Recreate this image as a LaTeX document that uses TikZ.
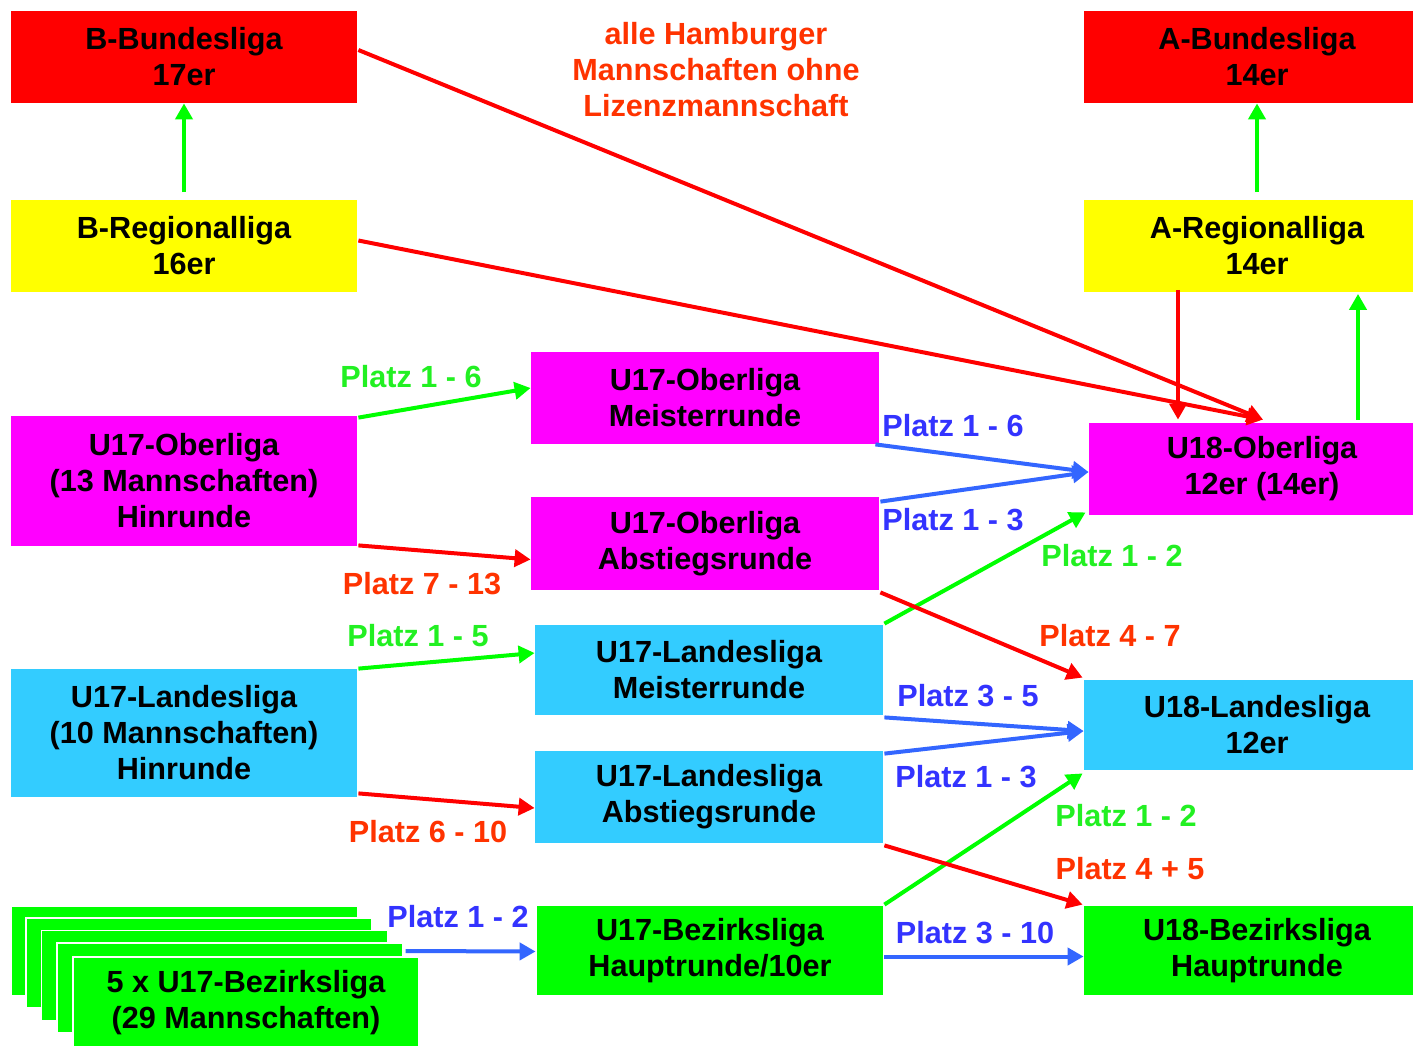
\documentclass[tikz,border=0pt]{standalone}
\usepackage{fontspec}
\setmainfont{Liberation Sans}
\usetikzlibrary{arrows.meta,calc}
\definecolor{cred}{HTML}{FF0000}
\definecolor{cyel}{HTML}{FFFF00}
\definecolor{cmag}{HTML}{FF00FF}
\definecolor{ccyan}{HTML}{33CCFF}
\definecolor{cgreen}{HTML}{00FF00}
\definecolor{arrblue}{HTML}{3366FF}
\definecolor{lblblue}{HTML}{3333FF}
\definecolor{lblgreen}{HTML}{22F022}
\definecolor{lblorange}{HTML}{FF3300}
\begin{document}
\begin{tikzpicture}[x=0.5pt,y=-0.5pt,
  lbl/.style={inner sep=0pt, align=center, font=\fontsize{15.3}{18}\selectfont\bfseries},
  box/.style={lbl, minimum width=173pt, minimum height=46pt},
  arr/.style={line width=2pt, -{Triangle[length=8pt,width=8.5pt]}},
  garr/.style={arr, draw=cgreen},
  rarr/.style={arr, draw=cred},
  barr/.style={arr, draw=arrblue},
  stackbox/.style={box, fill=cgreen, draw=white, line width=0.6pt, minimum height=45pt}
]
\useasboundingbox (0,0) rectangle (1413,1045);
\fill[white] (0,0) rectangle (1413,1045);

% boxes
\node[box, fill=cred] (bbl) at (184,57) {B-Bundesliga\\17er};
\node[box, fill=cyel] (brl) at (184,245.5) {B-Regionalliga\\16er};
\node[box, fill=cred] (abl) at (1257,57) {A-Bundesliga\\14er};
\node[box, fill=cyel] (arl) at (1257,245.5) {A-Regionalliga\\14er};
\node[box, fill=cmag] (u18ol) at (1262,469) {U18-Oberliga\\12er (14er)};
\node[box, fill=cmag, minimum height=65pt] (olh) at (184,481) {U17-Oberliga\\(13 Mannschaften)\\Hinrunde};
\node[box, fill=cmag, minimum width=174pt] (olm) at (705,398) {U17-Oberliga\\Meisterrunde};
\node[box, fill=cmag, minimum width=174pt, minimum height=46.5pt] (ola) at (705,543.5) {U17-Oberliga\\Abstiegsrunde};
\node[box, fill=ccyan, minimum width=174pt, minimum height=45pt] (llm) at (709,670) {U17-Landesliga\\Meisterrunde};
\node[box, fill=ccyan, minimum width=174pt] (lla) at (709,797) {U17-Landesliga\\Abstiegsrunde};
\node[box, fill=ccyan, minimum height=64pt] (llh) at (184,733) {U17-Landesliga\\(10 Mannschaften)\\Hinrunde};
\node[box, fill=ccyan, minimum height=45pt] (u18ll) at (1257,725) {U18-Landesliga\\12er};
\node[box, fill=cgreen, minimum height=44.5pt] (bl) at (710,950.5) {U17-Bezirksliga\\Hauptrunde/10er};
\node[box, fill=cgreen, minimum height=44.5pt] (u18bl) at (1257,950.5) {U18-Bezirksliga\\Hauptrunde};

% stacked Bezirksliga boxes
\node[stackbox] (s1) at (184.5,951) {};
\node[stackbox] (s2) at (199,963) {};
\node[stackbox] (s3) at (214.5,975.5) {};
\node[stackbox] (s4) at (230,988) {};
\node[stackbox, minimum height=46pt] (s5) at (246,1003) {5 x U17-Bezirksliga\\(29 Mannschaften)};

% title
\node[lbl, text=lblorange] (title) at (716,70) {alle Hamburger\\Mannschaften ohne\\Lizenzmannschaft};

% connectors top
\draw[garr] ($(brl.north)+(0,-7)$) -- (bbl.south);
\draw[garr] ($(arl.north)+(0,-7)$) -- (abl.south);
\draw[rarr] ($(bbl.east)+(1,-7)$) -- ($(u18ol.north)+(1,-3)$);
\draw[rarr] ($(brl.east)+(1,-5)$) -- ($(u18ol.north)+(1,-3)$);
\draw[rarr] ($(arl.south)+(-79,-2)$) -- ($(u18ol.north)+(-84,-3)$);
\draw[garr] ($(u18ol.north)+(96,-3)$) -- ($(arl.south)+(101,2)$);

% Oberliga
\draw[garr] ($(olh.north east)+(1,2)$) -- ($(olm.west)+(0,-10)$);
\draw[rarr] ($(olh.south east)+(1,-1)$) -- ($(ola.west)+(0,16)$);
\draw[barr] ($(olm.south east)+(-4,0)$) -- ($(u18ol.west)+(0,3)$);
\draw[barr] ($(ola.north east)+(1,5)$) -- ($(u18ol.west)+(0,3)$);
\draw[garr] ($(llm.north east)+(1,-1)$) -- ($(u18ol.south west)+(-3,-3)$);
\draw[rarr] ($(ola.south east)+(1,2)$) -- ($(u18ll.north west)+(-1,-2)$);

% Landesliga
\draw[garr] ($(llh.north east)+(1,0)$) -- ($(llm.west)+(0,-17)$);
\draw[rarr] ($(llh.south east)+(1,-4)$) -- ($(lla.west)+(0,11)$);
\draw[barr] ($(llm.south east)+(1,2)$) -- ($(u18ll.west)+(0,6)$);
\draw[barr] ($(lla.north east)+(1,3)$) -- ($(u18ll.west)+(0,6)$);
\draw[garr] ($(bl.north east)+(1,-1)$) -- ($(u18ll.south west)+(-1,3)$);
\draw[rarr] ($(lla.south east)+(1,2)$) -- ($(u18bl.north west)+(-1,-1)$);

% Bezirksliga
\draw[barr] ($(bl.east)+(1,6)$) -- ($(u18bl.west)+(0,6)$);
\draw[barr] ($(s4.east)+(2,-37)$) -- ($(bl.west)+(-1,1)$);

% labels
\node[lbl, text=lblgreen] (l1) at (411,377) {Platz 1 - 6};
\node[lbl, text=lblorange] (l2) at (422,584) {Platz 7 - 13};
\node[lbl, text=lblblue] (l3) at (953,426) {Platz 1 - 6};
\node[lbl, text=lblblue] (l4) at (953,520) {Platz 1 - 3};
\node[lbl, text=lblgreen] (l5) at (1112,556) {Platz 1 - 2};
\node[lbl, text=lblorange] (l6) at (1110,636) {Platz 4 - 7};
\node[lbl, text=lblgreen] (l7) at (418,636) {Platz 1 - 5};
\node[lbl, text=lblorange] (l8) at (428,832) {Platz 6 - 10};
\node[lbl, text=lblblue] (l9) at (968,696) {Platz 3 - 5};
\node[lbl, text=lblblue] (l10) at (966,777) {Platz 1 - 3};
\node[lbl, text=lblgreen] (l11) at (1126,816) {Platz 1 - 2};
\node[lbl, text=lblorange] (l12) at (1130,869) {Platz 4 + 5};
\node[lbl, text=lblblue] (l13) at (975,933) {Platz 3 - 10};
\node[lbl, text=lblblue] (l14) at (458,917) {Platz 1 - 2};
\end{tikzpicture}
\end{document}
